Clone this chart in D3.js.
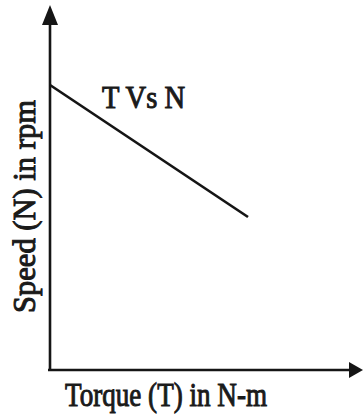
<!DOCTYPE html>
<html>
<head>
<meta charset="utf-8">
<script src="https://cdn.jsdelivr.net/npm/d3@7"></script>
<style>
  html, body { margin: 0; padding: 0; background: #fff; }
  svg { display: block; }
  text { font-family: "Liberation Serif", "DejaVu Serif", serif; font-weight: normal; fill: #1a1a1a; stroke: #1a1a1a; stroke-width: 1px; }
</style>
</head>
<body>
<svg id="chart" width="364" height="414"></svg>
<script>
// Torque–speed characteristic (T vs N)
const torque = [0, 6.6];
const speed = [9.5, 5.1];
const seriesLabel = "T Vs N";
const xTitle = "Torque (T) in N-m";
const yTitle = "Speed (N) in rpm";

const svg = d3.select("#chart");
const ink = "#151515";

const x = d3.scaleLinear().domain([0, 10]).range([50, 350]);
const y = d3.scaleLinear().domain([0, 10]).range([370, 70]);

// Axes drawn as plain lines ending in arrowheads
const x0 = x(0), y0 = y(0);
const xEnd = 363, yEnd = 5;

svg.append("line")
  .attr("x1", x0 - 2).attr("y1", y0).attr("x2", xEnd - 10).attr("y2", y0)
  .attr("stroke", ink).attr("stroke-width", 2.6);
svg.append("line")
  .attr("x1", x0).attr("y1", y0 + 1).attr("x2", x0).attr("y2", yEnd + 12)
  .attr("stroke", ink).attr("stroke-width", 2.6);

// arrowheads
svg.append("path")
  .attr("d", `M${xEnd},${y0} L${xEnd - 14},${y0 - 8} L${xEnd - 14},${y0 + 8} Z`)
  .attr("fill", ink);
svg.append("path")
  .attr("d", `M${x0},${yEnd} L${x0 - 8},${yEnd + 20} L${x0 + 8},${yEnd + 20} Z`)
  .attr("fill", ink);

// characteristic line
const pts = torque.map((t, i) => [t, speed[i]]);
svg.append("path")
  .datum(pts)
  .attr("d", d3.line().x(d => x(d[0])).y(d => y(d[1])))
  .attr("fill", "none")
  .attr("stroke", ink)
  .attr("stroke-width", 2.6);

// series label
svg.append("text")
  .attr("x", 102).attr("y", 108)
  .attr("font-size", 31)
  .attr("textLength", 83).attr("lengthAdjust", "spacingAndGlyphs")
  .text(seriesLabel);

// axis titles
svg.append("text")
  .attr("x", 65).attr("y", 406)
  .attr("font-size", 33)
  .attr("textLength", 202).attr("lengthAdjust", "spacingAndGlyphs")
  .text(xTitle);

svg.append("text")
  .attr("transform", "translate(35,313) rotate(-90)")
  .attr("font-size", 31)
  .attr("textLength", 213).attr("lengthAdjust", "spacingAndGlyphs")
  .text(yTitle);
</script>
</body>
</html>
